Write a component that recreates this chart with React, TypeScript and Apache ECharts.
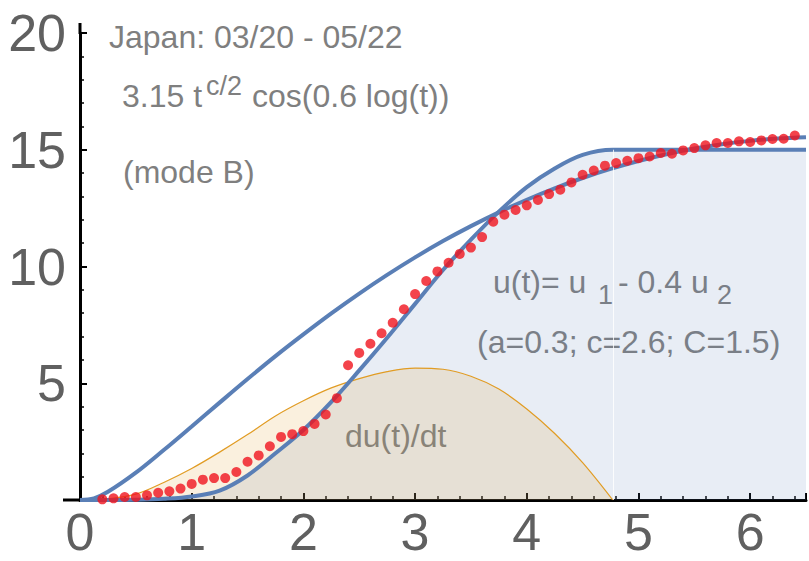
import React, { useEffect, useRef } from 'react';
import * as echarts from 'echarts';

// u(t) = u1 - 0.4 u2 (thick blue, filled)
const uX = [0, 0.25, 0.5, 0.75, 1.0, 1.25, 1.5, 1.75, 2.0, 2.25, 2.5, 2.75, 3.0, 3.25, 3.5, 3.75, 4.0, 4.25, 4.5, 4.77, 5.0, 5.5, 6.0, 6.5];
const uValues = [0, 0, 0.01, 0.05, 0.15, 0.4, 1.05, 2.0, 3.0, 4.2, 5.55, 6.95, 8.4, 9.85, 11.15, 12.35, 13.4, 14.2, 14.78, 15.0, 15.0, 15.0, 15.0, 15.0];

// 3.15 t^(c/2) cos(0.6 log t) (blue line)
const bX = [0, 0.125, 0.25, 0.5, 0.75, 1.0, 1.25, 1.5, 1.75, 2.0, 2.25, 2.5, 2.75, 3.0, 3.25, 3.5, 3.75, 4.0, 4.25, 4.5, 4.75, 5.0, 5.25, 5.5, 5.75, 6.0, 6.25, 6.5];
const bValues = [0, 0.07, 0.35, 1.17, 2.14, 3.15, 4.17, 5.18, 6.16, 7.09, 7.99, 8.84, 9.64, 10.39, 11.09, 11.73, 12.32, 12.86, 13.35, 13.79, 14.18, 14.52, 14.81, 15.05, 15.24, 15.38, 15.48, 15.54];

// du(t)/dt (orange, filled)
const dX = [0, 0.25, 0.5, 0.75, 1.0, 1.25, 1.5, 1.75, 2.0, 2.25, 2.5, 2.75, 3.0, 3.25, 3.5, 3.75, 4.0, 4.25, 4.5, 4.77];
const dValues = [0, 0.05, 0.25, 0.75, 1.35, 2.05, 2.8, 3.6, 4.25, 4.8, 5.2, 5.5, 5.65, 5.6, 5.3, 4.75, 3.9, 2.85, 1.6, 0];

// Japan data 03/20 - 05/22 (red dots)
const obsX = [0.2, 0.3, 0.4, 0.5, 0.6, 0.7, 0.8, 0.9, 1.0, 1.1, 1.2, 1.3, 1.4, 1.5, 1.6, 1.7, 1.8, 1.9, 2.0, 2.1, 2.2, 2.3, 2.4, 2.5, 2.6, 2.7, 2.8, 2.9, 3.0, 3.1, 3.2, 3.3, 3.4, 3.5, 3.6, 3.7, 3.8, 3.9, 4.0, 4.1, 4.2, 4.3, 4.4, 4.5, 4.6, 4.7, 4.8, 4.9, 5.0, 5.1, 5.2, 5.3, 5.4, 5.5, 5.6, 5.7, 5.8, 5.9, 6.0, 6.1, 6.2, 6.3, 6.4];
const obsValues = [0.03, 0.07, 0.13, 0.13, 0.2, 0.31, 0.37, 0.49, 0.69, 0.87, 0.94, 0.94, 1.2, 1.64, 1.91, 2.3, 2.7, 2.82, 2.95, 3.26, 3.66, 4.36, 5.77, 6.3, 6.69, 7.14, 7.59, 8.17, 8.82, 9.38, 9.79, 10.16, 10.54, 10.81, 11.26, 11.92, 12.22, 12.42, 12.62, 12.85, 13.1, 13.29, 13.6, 13.93, 14.11, 14.32, 14.43, 14.53, 14.64, 14.71, 14.86, 14.83, 14.97, 15.07, 15.19, 15.29, 15.29, 15.36, 15.33, 15.4, 15.46, 15.47, 15.61];

const uJoinX = 4.77;
const uJoinY = 15;

const BLUE = '#5a7fb6';
const ORANGE = '#e19c24';
const TEXT = '#7f7f7f';
const FONT = '"Liberation Sans", Arial, sans-serif';

const zip = (xs: number[], ys: number[]) => xs.map((x, i) => [x, ys[i]]);

export default function App() {
  const ref = useRef<HTMLDivElement>(null);
  useEffect(() => {
    if (!ref.current) return;
    const chart = echarts.init(ref.current, undefined, { renderer: 'svg' });
    const t = (text: string, x: number, y: number, size = 32) => ({
      type: 'text',
      x,
      y,
      silent: true,
      style: { text, fill: TEXT, font: `${size}px ${FONT}`, align: 'left', verticalAlign: 'middle' },
    });
    chart.setOption({
      animation: false,
      grid: { left: 80, right: 3, top: 33, bottom: 61, outerBoundsMode: 'none', containLabel: false },
      xAxis: {
        type: 'value',
        min: 0,
        max: 6.5,
        interval: 1,
        axisLine: { show: true, onZero: false, lineStyle: { color: '#000', width: 3 } },
        axisTick: { show: true, inside: true, length: 7, lineStyle: { color: '#000', width: 2 } },
        minorTick: { show: true, splitNumber: 5, length: 4, lineStyle: { color: '#000', width: 1.5 } },
        splitLine: { show: false },
        axisLabel: { fontSize: 52, color: '#606060', margin: 6, fontFamily: FONT, showMaxLabel: false },
      },
      yAxis: {
        type: 'value',
        min: 0,
        max: 20,
        interval: 5,
        axisLine: { show: true, lineStyle: { color: '#000', width: 3 } },
        axisTick: { show: true, inside: true, length: 7, lineStyle: { color: '#000', width: 2 } },
        minorTick: { show: true, splitNumber: 5, length: 4, lineStyle: { color: '#000', width: 1.5 } },
        splitLine: { show: false },
        axisLabel: {
          fontSize: 52,
          color: '#606060',
          margin: 14,
          fontFamily: FONT,
          formatter: (v: number) => (v === 0 ? '' : String(v)),
        },
      },
      series: [
        {
          type: 'line',
          data: zip(uX, uValues),
          smooth: 0.35,
          showSymbol: false,
          lineStyle: { width: 0 },
          areaStyle: { color: 'rgba(94,129,181,0.2)' },
          z: 1,
          silent: true,
          markLine: {
            silent: true,
            symbol: ['none', 'none'],
            label: { show: false },
            lineStyle: { color: 'rgba(255,255,255,0.8)', width: 1, type: 'solid' },
            data: [[{ coord: [uJoinX, 0] }, { coord: [uJoinX, uJoinY] }]],
          },
        },
        {
          type: 'line',
          data: zip(dX, dValues),
          smooth: 0.35,
          showSymbol: false,
          lineStyle: { width: 1.2, color: ORANGE },
          areaStyle: { color: 'rgba(225,156,36,0.22)' },
          z: 2,
          silent: true,
        },
        {
          type: 'line',
          data: zip(bX, bValues),
          smooth: 0.35,
          showSymbol: false,
          lineStyle: { width: 4, color: BLUE },
          z: 3,
          silent: true,
        },
        {
          type: 'line',
          data: zip(uX, uValues),
          smooth: 0.35,
          showSymbol: false,
          lineStyle: { width: 4, color: BLUE },
          z: 4,
          silent: true,
        },
        {
          type: 'scatter',
          data: zip(obsX, obsValues),
          symbolSize: 10,
          itemStyle: { color: '#f0141e' },
          z: 5,
          silent: true,
        },
      ],
      graphic: [
        { type: 'line', shape: { x1: 63, y1: 500, x2: 80, y2: 500 }, style: { stroke: '#000', lineWidth: 3 }, silent: true },
        { type: 'line', shape: { x1: 80, y1: 23, x2: 80, y2: 34 }, style: { stroke: '#000', lineWidth: 3 }, silent: true },
        t('Japan: 03/20 - 05/22', 109, 37),
        t('3.15 t', 122, 96),
        t('c/2', 206, 86, 27),
        t('cos(0.6 log(t))', 252, 96),
        t('(mode B)', 123, 172),
        t('u(t)= u', 493, 282),
        t('1', 598, 295, 27),
        t('- 0.4 u', 618, 282),
        t('2', 717, 295, 27),
        t('(a=0.3; c=2.6; C=1.5)', 477, 342),
        t('du(t)/dt', 345, 436),
      ],
    });
    return () => chart.dispose();
  }, []);
  return <div ref={ref} style={{ position: 'absolute', left: 0, top: 0, width: 809, height: 561 }} />;
}
